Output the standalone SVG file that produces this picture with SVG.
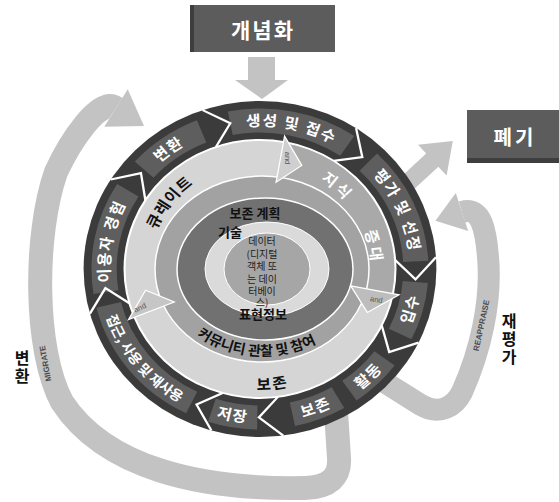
<svg xmlns="http://www.w3.org/2000/svg" width="559" height="502" viewBox="0 0 559 502">
<style>
.band{fill:none;stroke:#c3c3c3}
.arr{fill:#c3c3c3}
.box{fill:#5c5c5c}
.boxtxt{font-family:"Noto Sans CJK KR",sans-serif;font-weight:bold;fill:#fff;text-anchor:middle}
.lbl{font-family:"Noto Sans CJK KR",sans-serif;font-size:15px;font-weight:bold;fill:#fff;letter-spacing:1.5px}
.seg{fill:none;stroke:#5e5e5e;stroke-width:24}
.chev{fill:none;stroke:#fff;stroke-width:2.2}
.ink{font-family:"Noto Sans CJK KR",sans-serif;font-weight:bold;fill:#111}
.ctr{font-family:"Noto Sans CJK KR",sans-serif;font-size:10px;fill:#222;text-anchor:middle}
.and{font-family:"Liberation Sans",sans-serif;font-size:7.5px;fill:#555;text-anchor:middle}
.side{font-family:"Noto Sans CJK KR",sans-serif;font-size:16px;font-weight:bold;fill:#111;writing-mode:vertical-rl;letter-spacing:2px}
.eng{font-family:"Liberation Sans",sans-serif;font-size:8px;font-weight:bold;fill:#4a4a4a;text-anchor:middle}
.ah{stroke:#fff;stroke-width:1.2}
</style>
<defs>
<path id="cwO" d="M -143 0 A 143 143 0 0 1 143 0"/>
<path id="ccwO" d="M -154 0 A 154 154 0 0 0 154 0"/>
<path id="cwI" d="M -106 0 A 106 106 0 0 1 106 0"/>
<path id="ccwI" d="M -121 0 A 121 121 0 0 0 121 0"/>
<path id="ccwC" d="M 160.3 269 A 102.7 87 0 0 0 365.7 269"/>
<polyline id="chev" class="chev" points="167.6,-11.7 148.1,10.4 128.7,-9"/>
</defs>

<g id="connectors">
  <path class="band" stroke-width="24" d="M 336 412 L 339 458 Q 341 487 305 488 C 200 490 105 468 62 402 C 34 350 34 235 56 172 C 70 142 99 97 116 108"/>
  <polygon class="arr" points="104.3,126.7 127.7,89.3 144,126"/>
  <path class="band" stroke-width="22" d="M 378 378 L 421 405 C 440 416 455 406 462 392 C 480 352 492 302 488 257 C 486 232 482 206 462 212"/>
  <polygon class="arr" points="468.2,231 455.8,193 435.4,220.7"/>
  <polygon class="arr" points="393.9,183.4 426.2,153.5 418,144.7 452.8,141 446.6,175.5 438.4,166.7 406.1,196.6"/>
  <polygon class="arr" points="248,57 275,57 275,80 288,80 262,99 235,80 248,80"/>
  <text class="eng" transform="translate(48 363) rotate(-100)">MIGRATE</text>
  <text class="eng" transform="translate(484 326) rotate(-78)">REAPPRAISE</text>
  <text class="side" x="22" y="350">변환</text>
  <text class="side" x="509" y="313">재평가</text>
</g>

<g id="node-conceptualise">
  <rect class="box" x="190" y="5" width="145" height="47"/>
  <rect x="190" y="5" width="4" height="47" fill="#3e3e3e"/>
  <text class="boxtxt" x="263" y="38" font-size="21" letter-spacing="2">개념화</text>
</g>

<g id="node-dispose">
  <rect class="box" x="467" y="110" width="92" height="53"/>
  <rect x="467" y="158" width="92" height="5" fill="#3e3e3e"/>
  <text class="boxtxt" x="515" y="145" font-size="20" letter-spacing="3">폐기</text>
</g>

<g id="node-lifecycle">
  <g transform="translate(260 269) scale(1.05 1)">
    <circle r="168" fill="#3b3b3b"/>
    <circle r="148.5" class="seg" stroke-dasharray="116.6 2000" transform="rotate(-101)"/>
    <circle r="148.5" class="seg" stroke-dasharray="111.5 2000" transform="rotate(-46)"/>
    <circle r="148.5" class="seg" stroke-dasharray="54.4 2000" transform="rotate(5)"/>
    <circle r="148.5" class="seg" stroke-dasharray="46.7 2000" transform="rotate(37)"/>
    <circle r="148.5" class="seg" stroke-dasharray="46.7 2000" transform="rotate(60)"/>
    <circle r="148.5" class="seg" stroke-dasharray="44 2000" transform="rotate(91)"/>
    <circle r="148.5" class="seg" stroke-dasharray="129.6 2000" transform="rotate(116)"/>
    <circle r="148.5" class="seg" stroke-dasharray="106.3 2000" transform="rotate(171)"/>
    <circle r="148.5" class="seg" stroke-dasharray="67.4 2000" transform="rotate(222)"/>
    <use href="#chev" transform="rotate(-105)"/>
    <use href="#chev" transform="rotate(-53)"/>
    <use href="#chev" transform="rotate(0)"/>
    <use href="#chev" transform="rotate(30)"/>
    <use href="#chev" transform="rotate(86.4)"/>
    <use href="#chev" transform="rotate(110)"/>
    <use href="#chev" transform="rotate(168.6)"/>
    <use href="#chev" transform="rotate(216.2)"/>
    <text class="lbl" transform="rotate(12)"><textPath href="#cwO" startOffset="50%" text-anchor="middle">생성 및 접수</textPath></text>
    <text class="lbl" transform="rotate(66)"><textPath href="#cwO" startOffset="50%" text-anchor="middle">평가 및 선정</textPath></text>
    <text class="lbl" transform="rotate(-74.4)"><textPath href="#ccwO" startOffset="50%" text-anchor="middle">입수</textPath></text>
    <text class="lbl" transform="rotate(-44)"><textPath href="#ccwO" startOffset="50%" text-anchor="middle">활동</textPath></text>
    <text class="lbl" transform="rotate(-21)"><textPath href="#ccwO" startOffset="50%" text-anchor="middle">보존</textPath></text>
    <text class="lbl" transform="rotate(10)"><textPath href="#ccwO" startOffset="50%" text-anchor="middle">저장</textPath></text>
    <text class="lbl" transform="rotate(51)" style="font-size:13.5px;letter-spacing:0"><textPath href="#ccwO" startOffset="50%" text-anchor="middle">접근, 사용 및 재사용</textPath></text>
    <text class="lbl" transform="rotate(281)"><textPath href="#cwO" startOffset="50%" text-anchor="middle">이용자 경험</textPath></text>
    <text class="lbl" transform="rotate(324)"><textPath href="#cwO" startOffset="50%" text-anchor="middle">변환</textPath></text>
    <circle r="129" fill="#d5d5d5" stroke="#fff" stroke-width="2"/>
    <path d="M0 0 L22.2 -126.1 A128 128 0 0 1 125.6 24.4 Z" fill="#a9a9a9"/>
  </g>
  <ellipse cx="262" cy="269" rx="107" ry="93" fill="#a2a2a2" stroke="#fff" stroke-width="1.5"/>
  <ellipse cx="265" cy="269" rx="88" ry="71" fill="#717171" stroke="#fff" stroke-width="1.5"/>
  <ellipse cx="267" cy="269" rx="62" ry="47" fill="#dadada" stroke="#fff" stroke-width="1"/>
  <ellipse cx="267" cy="269" rx="43" ry="36" fill="#a6a6a6" stroke="#fff" stroke-width="1"/>
  <g transform="translate(260 269) scale(1.05 1)">
    <polygon class="ah" fill="#cfcfcf" points="23.4,-132.9 39.8,-103.6 15.3,-86.7"/>
    <polygon class="ah" fill="#bdbdbd" points="132.5,25.8 102.2,43.4 86.4,16.8"/>
    <polygon class="ah" fill="#c6c6c6" points="-125.2,50.6 -109,21.2 -81.6,33"/>
    <text class="ink" font-size="15" letter-spacing="1" transform="rotate(307.6)"><textPath href="#cwI" startOffset="50%" text-anchor="middle">큐레이트</textPath></text>
    <text class="ink" font-size="15" letter-spacing="3" style="fill:#fff" transform="rotate(41.8)"><textPath href="#cwI" startOffset="50%" text-anchor="middle">지식</textPath></text>
    <text class="ink" font-size="15" letter-spacing="3" style="fill:#fff" transform="rotate(78.4)"><textPath href="#cwI" startOffset="50%" text-anchor="middle">증대</textPath></text>
    <text class="ink" font-size="15" letter-spacing="2" transform="rotate(-6)"><textPath href="#ccwI" startOffset="50%" text-anchor="middle">보존</textPath></text>
  </g>
  <text class="and" transform="translate(285 158) rotate(90)">and</text>
  <text class="and" transform="translate(376 302) rotate(10)">and</text>
  <text class="and" transform="translate(141 310) rotate(-25)">and</text>
  <text class="ink" font-size="14"><textPath href="#ccwC" startOffset="47.5%" text-anchor="middle">커뮤니티 관찰 및 참여</textPath></text>
  <text class="ink" font-size="13" x="255" y="218" text-anchor="middle">보존 계획</text>
  <text class="ink" font-size="13" x="230" y="237" text-anchor="middle">기술</text>
  <text class="ctr" x="262" y="245">데이터<tspan x="262" dy="12.5">(디지털</tspan><tspan x="262" dy="12.5">객체 또</tspan><tspan x="262" dy="12.5">는 데이</tspan><tspan x="262" dy="12.5">터베이</tspan><tspan x="262" dy="11">스)</tspan></text>
  <text class="ink" font-size="13" x="263" y="319" text-anchor="middle">표현정보</text>
</g>
</svg>
